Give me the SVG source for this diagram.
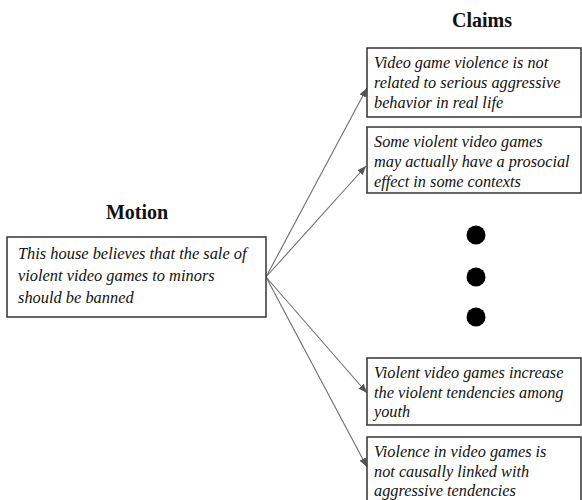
<svg xmlns="http://www.w3.org/2000/svg" width="582" height="500" viewBox="0 0 582 500">
<style>
.box{fill:#fff;stroke:#333;stroke-width:1.5}
.t{font-family:"Liberation Serif","Times New Roman",serif;font-style:italic;font-size:16.3px;fill:#111}
.h{font-family:"Liberation Serif","Times New Roman",serif;font-weight:bold;font-size:20px;fill:#111;text-anchor:middle}
.c{stroke:#6e6e6e;stroke-width:1.1;fill:none;marker-end:url(#ah)}
</style>
<defs>
<marker id="ah" viewBox="0 0 10 10" refX="10" refY="5" markerWidth="9" markerHeight="9" markerUnits="userSpaceOnUse" orient="auto">
<path d="M0,1 L10,5 L0,9 z" fill="#555"/>
</marker>
</defs>
<rect width="582" height="500" fill="#fff"/>
<text class="h" x="137" y="219">Motion</text>
<text class="h" x="482" y="27">Claims</text>
<g id="connectors">
<line class="c" x1="266" y1="277" x2="367" y2="88"/>
<line class="c" x1="266" y1="277" x2="366" y2="166"/>
<line class="c" x1="266" y1="277" x2="367" y2="393"/>
<line class="c" x1="266" y1="277" x2="367" y2="467"/>
</g>
<g id="motion">
<rect class="box" x="7" y="237" width="259" height="80"/>
<text class="t" x="18" y="259" style="font-size:16.4px">This house believes that the sale of</text>
<text class="t" x="18" y="281" style="font-size:16.4px">violent video games to minors</text>
<text class="t" x="18" y="303" style="font-size:16.4px">should be banned</text>
</g>
<g id="claim1">
<rect class="box" x="367" y="48" width="214" height="69"/>
<text class="t" x="374" y="68">Video game violence is not</text>
<text class="t" x="374" y="88">related to serious aggressive</text>
<text class="t" x="374" y="108">behavior in real life</text>
</g>
<g id="claim2">
<rect class="box" x="367" y="127" width="214" height="66"/>
<text class="t" x="374" y="147">Some violent video games</text>
<text class="t" x="374" y="167">may actually have a prosocial</text>
<text class="t" x="374" y="187">effect in some contexts</text>
</g>
<g id="dots" fill="#000">
<circle cx="476" cy="235" r="9.5"/>
<circle cx="476" cy="277" r="9.5"/>
<circle cx="476" cy="317" r="9.5"/>
</g>
<g id="claim3">
<rect class="box" x="367" y="358" width="214" height="67"/>
<text class="t" x="374" y="378">Violent video games increase</text>
<text class="t" x="374" y="398">the violent tendencies among</text>
<text class="t" x="374" y="417">youth</text>
</g>
<g id="claim4">
<rect class="box" x="367" y="437" width="214" height="70"/>
<text class="t" x="374" y="457">Violence in video games is</text>
<text class="t" x="374" y="477">not causally linked with</text>
<text class="t" x="374" y="496">aggressive tendencies</text>
</g>
</svg>
